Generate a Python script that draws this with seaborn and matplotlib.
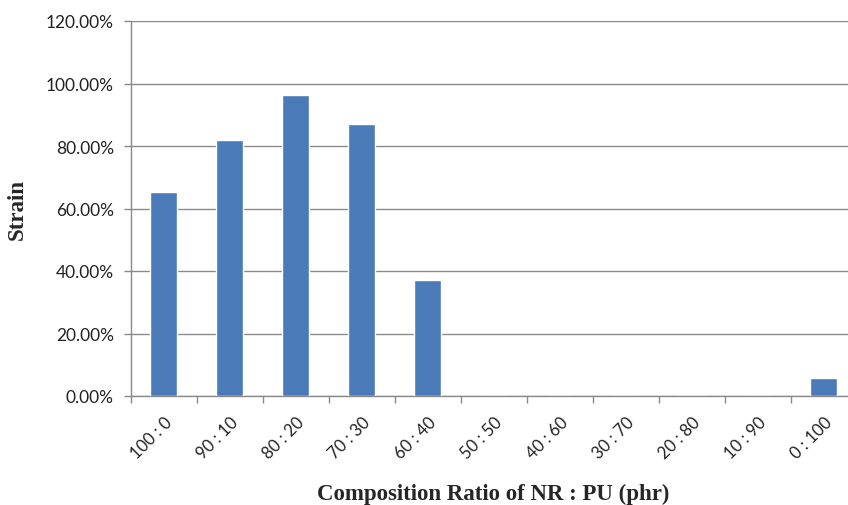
import matplotlib
matplotlib.use("Agg")
import matplotlib.pyplot as plt
import matplotlib.ticker as mticker
import numpy as np
import pandas as pd
import seaborn as sns

# Blend ratios (NR : PU, phr) and measured strain at break
ratios = ["100 : 0", "90 : 10", "80 : 20", "70 : 30", "60 : 40", "50 : 50",
          "40 : 60", "30 : 70", "20 : 80", "10 : 90", "0 : 100"]
strain = [0.653, 0.820, 0.963, 0.869, 0.371, 0.0, 0.0, 0.0, 0.0, 0.0, 0.057]
y_ticks = [0.0, 0.2, 0.4, 0.6, 0.8, 1.0, 1.2]

df = pd.DataFrame({"ratio": ratios, "strain": strain})

sns.set_style("white")
W, H = 848, 506
fig = plt.figure(figsize=(W / 100, H / 100), dpi=100)
ax = fig.add_axes([130.5 / W, 109 / H, 726 / W, 375 / H])

grid_c = "#8a8a8a"
text_c = "#222222"
sns.barplot(data=df, x="ratio", y="strain", order=ratios, color="#4a7ab7",
            saturation=1, width=0.4, ax=ax, zorder=3)

ax.set_xlim(-0.5, len(ratios) - 0.5)
ax.set_ylim(0, 1.2)
ax.set_yticks(y_ticks)
ax.yaxis.set_major_formatter(mticker.FuncFormatter(lambda v, p: f"{v * 100:.2f}%"))
ax.yaxis.grid(True, color=grid_c, linewidth=1.0, zorder=0)
ax.set_axisbelow(True)

# Category labels at the centres, tick marks on the boundaries
ax.set_xticks(np.arange(len(ratios)))
ax.set_xticklabels(ratios, rotation=45, ha="right", rotation_mode="anchor",
                   fontsize=12, family="Lato", color=text_c)
ax.set_xticks(np.arange(len(ratios) + 1) - 0.5, minor=True)
ax.tick_params(axis="x", which="major", length=0, pad=13)
ax.tick_params(axis="x", which="minor", length=5, width=1, color=grid_c,
               direction="out", bottom=True)
ax.tick_params(axis="y", length=5, width=1, color=grid_c, direction="out",
               left=True, pad=7)
for lbl in ax.get_yticklabels():
    lbl.set_fontsize(12.5)
    lbl.set_family("Lato")
    lbl.set_color(text_c)

for side in ["top", "right"]:
    ax.spines[side].set_visible(False)
for side in ["left", "bottom"]:
    ax.spines[side].set_color(grid_c)
    ax.spines[side].set_linewidth(1.0)

# Axis titles placed in figure coordinates
ax.set_xlabel("")
ax.set_ylabel("")
fig.text(493 / W, 1 - 494 / H, "Composition Ratio of NR : PU (phr)",
         family="Liberation Serif", fontweight="bold", fontsize=16.5,
         ha="center", va="center")
fig.text(17 / W, 1 - 209 / H, "Strain", family="Liberation Serif",
         fontweight="bold", fontsize=16.5, rotation=90, ha="center", va="center")

fig.savefig("out.png", dpi=100)
